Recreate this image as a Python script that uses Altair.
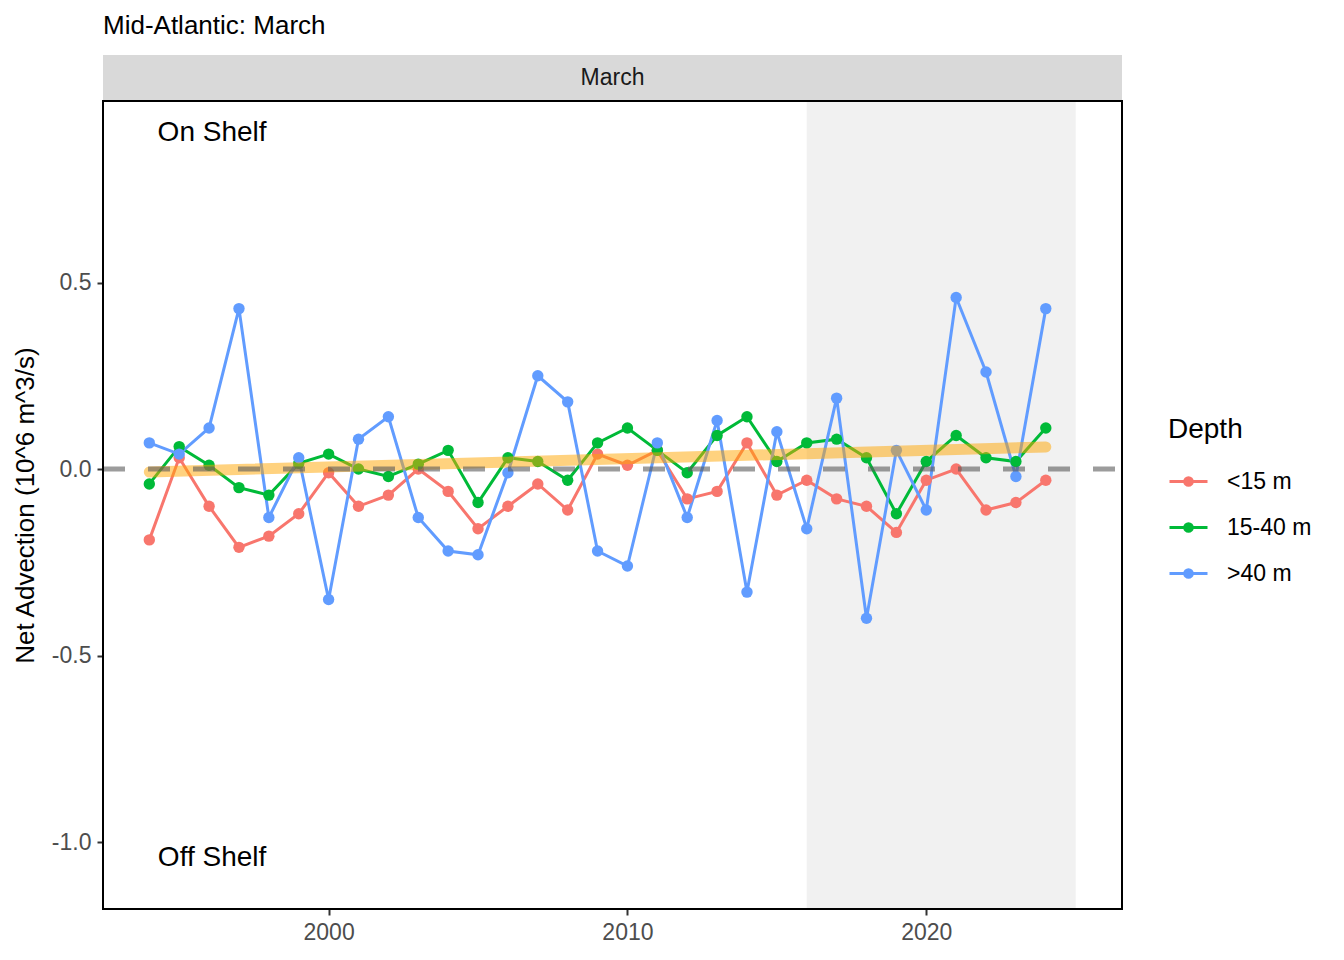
import altair as alt
import pandas as pd

FONT = "Liberation Sans"

years = list(range(1994, 2025))
depths = ["<15 m", "15-40 m", ">40 m"]
colors = ["#F8766D", "#00BA38", "#619CFF"]

shallow = [-0.19, 0.03, -0.10, -0.21, -0.18, -0.12, -0.01, -0.10, -0.07, 0.00,
           -0.06, -0.16, -0.10, -0.04, -0.11, 0.04, 0.01, 0.05, -0.08, -0.06,
           0.07, -0.07, -0.03, -0.08, -0.10, -0.17, -0.03, 0.00, -0.11, -0.09, -0.03]
middle = [-0.04, 0.06, 0.01, -0.05, -0.07, 0.015, 0.04, 0.00, -0.02, 0.013,
          0.05, -0.09, 0.03, 0.02, -0.03, 0.07, 0.11, 0.05, -0.01, 0.09,
          0.14, 0.02, 0.07, 0.08, 0.03, -0.12, 0.02, 0.09, 0.03, 0.02, 0.11]
deep = [0.07, 0.04, 0.11, 0.43, -0.13, 0.03, -0.35, 0.08, 0.14, -0.13,
        -0.22, -0.23, -0.01, 0.25, 0.18, -0.22, -0.26, 0.07, -0.13, 0.13,
        -0.33, 0.10, -0.16, 0.19, -0.40, 0.05, -0.11, 0.46, 0.26, -0.02, 0.43]

trend_years = [1994, 2024]
trend_values = [-0.008, 0.059]

shade_start = [2016]
shade_end = [2025]

label_text = ["On Shelf", "Off Shelf"]
label_year = [1996.1, 1996.1]
label_value = [0.90, -1.043]

panel_label = ["March"]

x_domain = [1992.45, 2026.55]
y_domain = [-1.1796, 0.9866]

W, H, SH = 1019, 808, 46

rows = []
for name, vals in zip(depths, [shallow, middle, deep]):
    for yr, v in zip(years, vals):
        rows.append({"year": yr, "value": v, "depth": name})
df = pd.DataFrame(rows)

trend_df = pd.DataFrame({"year": trend_years, "value": trend_values})
shade_df = pd.DataFrame({"start": shade_start, "end": shade_end})
label_df = pd.DataFrame({"text": label_text, "year": label_year, "value": label_value})
panel_df = pd.DataFrame({"panel": panel_label})

xscale = alt.Scale(domain=x_domain, nice=False, zero=False)
yscale = alt.Scale(domain=y_domain, nice=False, zero=False)

x_axis = alt.Axis(values=[2000, 2010, 2020], format="d", title=None, grid=False,
                  domain=False, tickColor="#333333", tickWidth=2, tickSize=6,
                  labelFont=FONT, labelFontSize=23, labelColor="#4D4D4D", labelPadding=6)
y_axis = alt.Axis(values=[-1.0, -0.5, 0.0, 0.5], grid=False, domain=False,
                  labelExpr="(datum.value < 0 ? '-' : '') + format(abs(datum.value), '.1f')",
                  tickColor="#333333", tickWidth=2, tickSize=6,
                  labelFont=FONT, labelFontSize=23, labelColor="#4D4D4D", labelPadding=6,
                  title="Net Advection (10^6 m^3/s)", titleFont=FONT, titleFontSize=26,
                  titleFontWeight="normal", titleColor="black", titlePadding=13)

shade = alt.Chart(shade_df).mark_rect(color="#F1F1F1").encode(
    x=alt.X("start:Q", scale=xscale, axis=x_axis),
    x2="end:Q",
    y=alt.value(0),
    y2=alt.value(H),
)

legend_path = "M-1,0L1,0M-0.2,0A0.2,0.2,0,1,1,0.2,0A0.2,0.2,0,1,1,-0.2,0Z"

series = alt.Chart(df).mark_line(
    strokeWidth=3,
    point=alt.OverlayMarkDef(filled=True, size=130, opacity=1),
).encode(
    x=alt.X("year:Q", scale=xscale, axis=x_axis),
    y=alt.Y("value:Q", scale=yscale, axis=y_axis),
    color=alt.Color("depth:N", scale=alt.Scale(domain=depths, range=colors),
                    legend=alt.Legend(title="Depth", orient="none", legendX=W + 46, legendY=315,
                                      titleFont=FONT, titleFontSize=28, titleFontWeight="normal",
                                      titleColor="black", titlePadding=17,
                                      labelFont=FONT, labelFontSize=23, labelColor="black",
                                      labelOffset=18, symbolType=legend_path, symbolSize=1444,
                                      symbolStrokeWidth=3, rowPadding=13)),
)

trend = alt.Chart(trend_df).mark_line(color="#FFA500", opacity=0.5, strokeWidth=11,
                                      strokeCap="round").encode(
    x=alt.X("year:Q", scale=xscale),
    y=alt.Y("value:Q", scale=yscale),
)

zero = alt.Chart(panel_df).mark_rule(color="#5A5A5A", opacity=0.6, strokeWidth=5,
                                     strokeDash=[22, 23]).encode(
    x=alt.value(0), x2=alt.value(W), y=alt.YDatum(0),
)

labels = alt.Chart(label_df).mark_text(font=FONT, fontSize=28, color="black",
                                       align="center", baseline="middle").encode(
    x=alt.X("year:Q", scale=xscale),
    y=alt.Y("value:Q", scale=yscale),
    text="text:N",
)

border = alt.Chart(panel_df).mark_rect(fill=None, stroke="black", strokeWidth=2).encode(
    x=alt.value(0), x2=alt.value(W), y=alt.value(0), y2=alt.value(H),
)

strip = alt.Chart(panel_df).mark_rect(color="#D9D9D9").encode(
    x=alt.value(0), x2=alt.value(W), y=alt.value(-SH), y2=alt.value(-1),
)
strip_text = alt.Chart(panel_df).mark_text(font=FONT, fontSize=23, color="#1A1A1A",
                                           align="center", baseline="middle").encode(
    x=alt.value(W / 2), y=alt.value(-SH / 2), text="panel:N",
)

chart = alt.layer(shade, series, trend, zero, labels, border, strip, strip_text).properties(
    width=W, height=H,
    padding={"left": 4, "top": 5, "right": 5, "bottom": 5},
    title=alt.TitleParams("Mid-Atlantic: March", anchor="start", frame="group",
                          offset=16, font=FONT, fontSize=26, fontWeight="normal",
                          color="black"),
).configure_view(stroke=None).configure(background="white")

chart.save("out.html", embed_options={"renderer": "svg", "actions": False})
